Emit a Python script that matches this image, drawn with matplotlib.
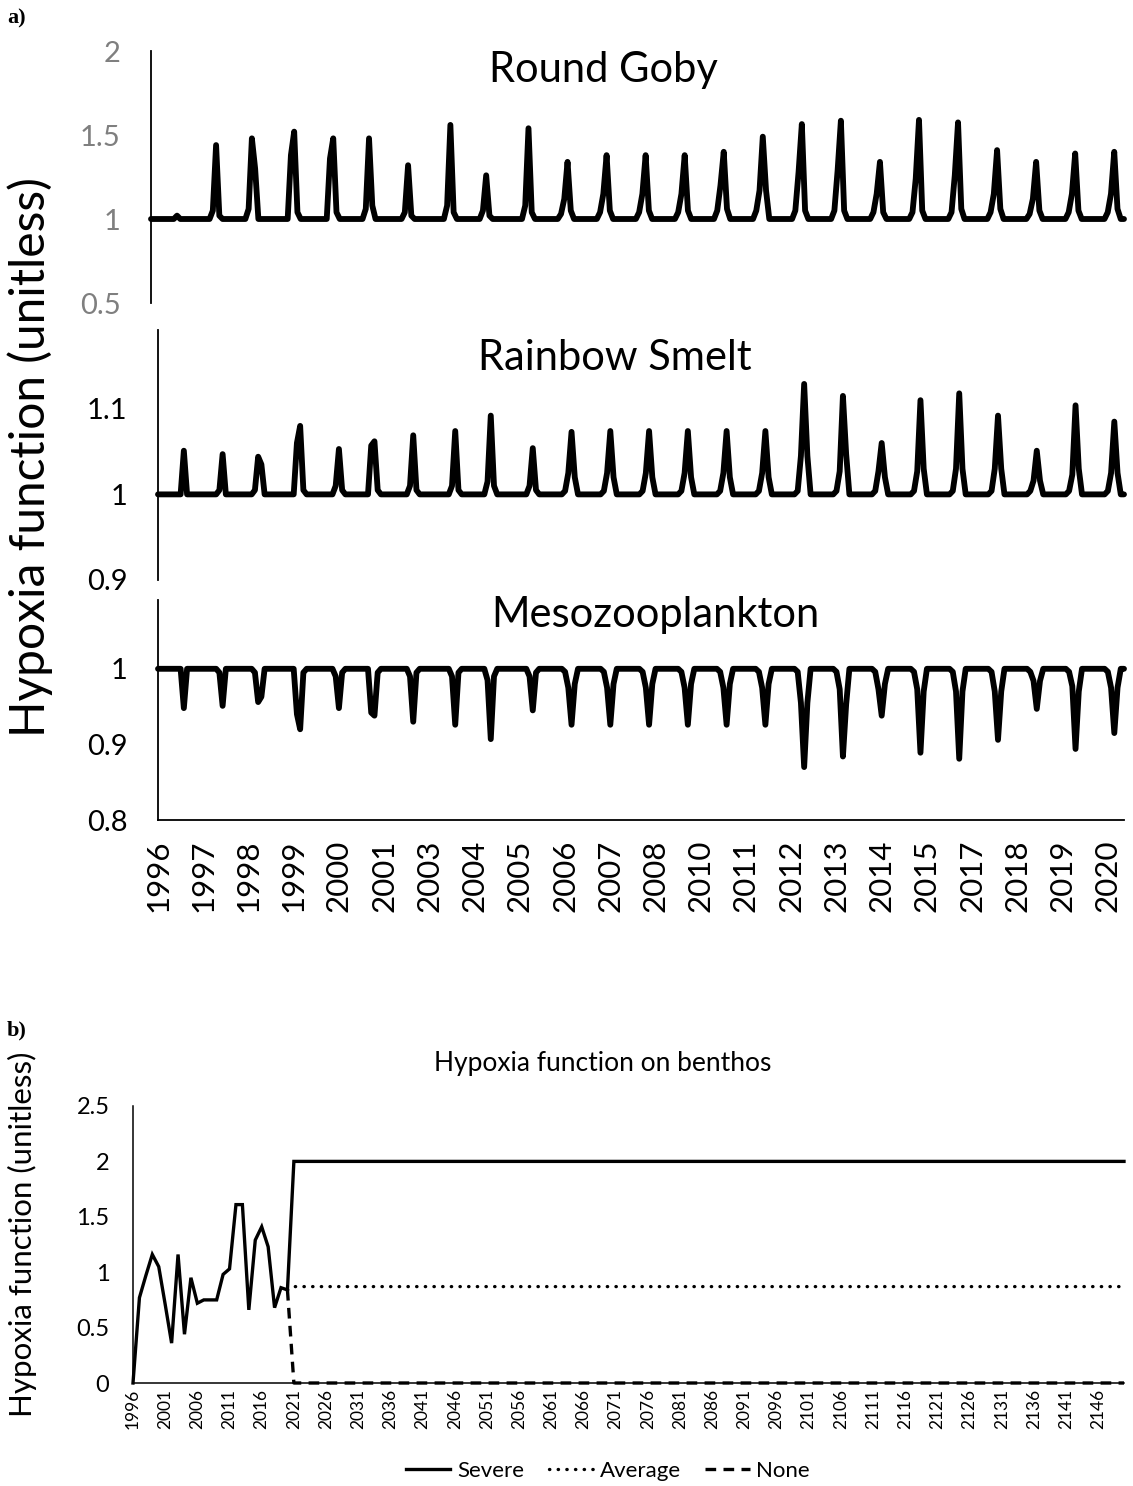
import numpy as np
import matplotlib
matplotlib.use("Agg")
import matplotlib.pyplot as plt

plt.rcParams['font.family'] = ['Lato', 'DejaVu Sans']

# ---------------- Panel a: monthly hypoxia multipliers, Jan 1996 - Dec 2020 ----------------
n_months = 300
# month index (0 = Jan 1996) of the annual hypoxia peak
peak_month = [8, 20, 31, 44, 56, 67, 79, 92, 103, 116, 128, 140, 152, 164,
              176, 188, 200, 212, 224, 236, 248, 260, 272, 284, 296]

# Round goby: two months before, one month before, peak month, one month after
goby_pre2 = [1.0, 1.0, 1.0, 1.0, 1.0, 1.0, 1.0, 1.0, 1.0, 1.0, 1.03, 1.04, 1.04,
             1.04, 1.05, 1.05, 1.05, 1.05, 1.04, 1.04, 1.04, 1.04, 1.03, 1.04, 1.04]
goby_pre = [1.0, 1.05, 1.06, 1.38, 1.36, 1.06, 1.04, 1.08, 1.05, 1.08, 1.12, 1.15, 1.15,
            1.15, 1.20, 1.17, 1.28, 1.29, 1.15, 1.24, 1.26, 1.15, 1.12, 1.15, 1.15]
goby_peak = [1.02, 1.44, 1.48, 1.52, 1.48, 1.48, 1.32, 1.56, 1.26, 1.54, 1.34, 1.38, 1.38,
             1.38, 1.40, 1.49, 1.565, 1.585, 1.34, 1.59, 1.575, 1.41, 1.34, 1.39, 1.40]
goby_post = [1.0, 1.02, 1.30, 1.04, 1.04, 1.08, 1.02, 1.04, 1.02, 1.04, 1.05, 1.05, 1.05,
             1.05, 1.06, 1.17, 1.05, 1.05, 1.04, 1.05, 1.06, 1.06, 1.05, 1.05, 1.06]

# Rainbow smelt
smelt_pre2 = [1.0, 1.0, 1.0, 1.0, 1.0, 1.0, 1.0, 1.0, 1.0, 1.0, 1.004, 1.004, 1.004,
              1.004, 1.004, 1.004, 1.004, 1.004, 1.004, 1.004, 1.004, 1.004, 1.004, 1.004, 1.004]
smelt_pre = [1.0, 1.005, 1.005, 1.06, 1.01, 1.057, 1.01, 1.01, 1.015, 1.01, 1.025, 1.025,
             1.025, 1.025, 1.025, 1.025, 1.045, 1.027, 1.027, 1.027, 1.03, 1.03, 1.016,
             1.023, 1.025]
smelt_peak = [1.051, 1.047, 1.044, 1.080, 1.053, 1.062, 1.069, 1.074, 1.092, 1.054, 1.073,
              1.074, 1.074, 1.074, 1.074, 1.074, 1.129, 1.115, 1.060, 1.110, 1.118, 1.092,
              1.051, 1.104, 1.085]
smelt_post = [1.0, 1.0, 1.035, 1.005, 1.005, 1.005, 1.005, 1.005, 1.01, 1.005, 1.02, 1.02,
              1.02, 1.02, 1.02, 1.02, 1.045, 1.047, 1.02, 1.03, 1.03, 1.03, 1.016, 1.03, 1.025]

# Mesozooplankton
meso_pre2 = [1.0, 1.0, 1.0, 1.0, 1.0, 1.0, 1.0, 1.0, 1.0, 1.0, 0.996, 0.996, 0.996,
             0.996, 0.996, 0.996, 0.996, 0.996, 0.996, 0.996, 0.996, 0.996, 0.996, 0.996, 0.996]
meso_pre = [1.0, 0.995, 0.995, 0.94, 0.99, 0.942, 0.99, 0.99, 0.985, 0.99, 0.975, 0.975,
            0.975, 0.975, 0.975, 0.975, 0.955, 0.973, 0.973, 0.973, 0.97, 0.97, 0.984,
            0.977, 0.975]
meso_trough = [0.948, 0.951, 0.956, 0.920, 0.948, 0.938, 0.930, 0.926, 0.907, 0.945, 0.926,
               0.926, 0.926, 0.926, 0.926, 0.926, 0.870, 0.884, 0.938, 0.889, 0.881, 0.906,
               0.947, 0.894, 0.915]
meso_post = [1.0, 1.0, 0.963, 0.995, 0.995, 0.995, 0.995, 0.995, 0.99, 0.995, 0.98, 0.98,
             0.98, 0.98, 0.98, 0.98, 0.955, 0.953, 0.98, 0.97, 0.97, 0.97, 0.984, 0.97, 0.975]

month_tick_pos = list(range(0, n_months, 14))
month_tick_labels = ['1996', '1997', '1998', '1999', '2000', '2001', '2003', '2004', '2005',
                     '2006', '2007', '2008', '2010', '2011', '2012', '2013', '2014', '2015',
                     '2017', '2018', '2019', '2020']

# ---------------- Panel b: annual benthos hypoxia function ----------------
hist_years = list(range(1996, 2021))
hist_benthos = [0.0, 0.77, 0.97, 1.16, 1.05, 0.71, 0.36, 1.16, 0.44, 0.95, 0.72, 0.75, 0.75,
                0.75, 0.98, 1.03, 1.61, 1.61, 0.66, 1.29, 1.41, 1.23, 0.68, 0.86, 0.84]
proj_years = list(range(2021, 2151))
severe_level = 2.0
average_level = 0.87
none_level = 0.0
year_ticks = list(range(1996, 2151, 5))


def monthly_series(pre2, pre, peak, post):
    s = np.ones(n_months)
    for m, a2, a, p, b in zip(peak_month, pre2, pre, peak, post):
        if m - 2 >= 0:
            s[m - 2] = a2
        if m - 1 >= 0:
            s[m - 1] = a
        s[m] = p
        if m + 1 < n_months:
            s[m + 1] = b
    return s


W, H = 1133, 1486
fig = plt.figure(figsize=(W / 100, H / 100), dpi=100)


def box(left, top, right, bottom):
    return [left / W, 1 - bottom / H, (right - left) / W, (bottom - top) / H]


months = np.arange(n_months)
panels = [
    (box(151, 51, 1124, 303), monthly_series(goby_pre2, goby_pre, goby_peak, goby_post),
     (0.5, 2.0), [0.5, 1.0, 1.5, 2.0], ['0.5', '1', '1.5', '2'], '#7f7f7f', False),
    (box(158, 330, 1124, 580), monthly_series(smelt_pre2, smelt_pre, smelt_peak, smelt_post),
     (0.9, 1.192), [0.9, 1.0, 1.1], ['0.9', '1', '1.1'], 'black', False),
    (box(158, 600, 1124, 820), monthly_series(meso_pre2, meso_pre, meso_trough, meso_post),
     (0.8, 1.091), [0.8, 0.9, 1.0], ['0.8', '0.9', '1'], 'black', True),
]

for rect, series, ylim, yt, ytl, tcolor, show_x in panels:
    ax = fig.add_axes(rect)
    ax.patch.set_alpha(0)
    ax.plot(months, series, color='black', lw=4.2, solid_joinstyle='round',
            solid_capstyle='round', clip_on=False)
    ax.set_xlim(0, n_months - 1)
    ax.set_ylim(*ylim)
    ax.set_yticks(yt)
    ax.set_yticklabels(ytl)
    ax.tick_params(axis='y', length=0, pad=22, labelsize=21, labelcolor=tcolor)
    for side in ['top', 'right']:
        ax.spines[side].set_visible(False)
    ax.spines['left'].set_linewidth(1.3)
    if show_x:
        ax.spines['bottom'].set_linewidth(1.3)
        ax.set_xticks(month_tick_pos)
        ax.set_xticklabels(month_tick_labels, rotation=90)
        ax.tick_params(axis='x', length=0, pad=14, labelsize=22.5)
    else:
        ax.spines['bottom'].set_visible(False)
        ax.set_xticks([])

fig.text(603 / W, 1 - 70 / H, 'Round Goby', ha='center', va='center', fontsize=30)
fig.text(615 / W, 1 - 358 / H, 'Rainbow Smelt', ha='center', va='center', fontsize=30)
fig.text(655 / W, 1 - 615 / H, 'Mesozooplankton', ha='center', va='center', fontsize=30)
fig.text(30 / W, 1 - 457 / H, 'Hypoxia function (unitless)', rotation=90,
         ha='center', va='center', fontsize=34.5)
fig.text(7 / W, 1 - 18 / H, 'a)', ha='left', va='center', fontsize=16,
         fontweight='bold', family=['Liberation Serif', 'DejaVu Serif'])

# ---------------- Panel b ----------------
axb = fig.add_axes(box(133, 1106, 1124, 1383))
severe = hist_benthos + [severe_level] * len(proj_years)
years_all = hist_years + proj_years
avg_years = [hist_years[-1]] + proj_years
average = [hist_benthos[-1]] + [average_level] * len(proj_years)
none = [hist_benthos[-1]] + [none_level] * len(proj_years)

axb.plot(avg_years, none, color='black', lw=2.4, linestyle=(0, (3.2, 2.2)),
         dash_capstyle='butt', clip_on=False, label='None', zorder=3)
axb.plot(avg_years, average, color='black', lw=2.4, linestyle=(0, (0.1, 2.5)),
         dash_capstyle='round', clip_on=False, label='Average', zorder=3)
axb.plot(years_all, severe, color='black', lw=2.4, solid_joinstyle='miter',
         clip_on=False, label='Severe', zorder=4)
axb.set_xlim(1996, 2150)
axb.set_ylim(0, 2.5)
axb.set_yticks([0, 0.5, 1.0, 1.5, 2.0, 2.5])
axb.set_yticklabels(['0', '0.5', '1', '1.5', '2', '2.5'])
axb.set_xticks(year_ticks)
axb.set_xticklabels([str(y) for y in year_ticks], rotation=90)
axb.tick_params(axis='y', length=0, pad=17, labelsize=17)
axb.tick_params(axis='x', length=0, pad=4, labelsize=12.5)
for side in ['top', 'right']:
    axb.spines[side].set_visible(False)
axb.spines['left'].set_linewidth(1.1)
axb.spines['bottom'].set_linewidth(1.1)

fig.text(603 / W, 1 - 1063 / H, 'Hypoxia function on benthos', ha='center', va='center',
         fontsize=19)
fig.text(22 / W, 1 - 1234 / H, 'Hypoxia function (unitless)', rotation=90,
         ha='center', va='center', fontsize=22.5)
fig.text(7 / W, 1 - 1030 / H, 'b)', ha='left', va='center', fontsize=16,
         fontweight='bold', family=['Liberation Serif', 'DejaVu Serif'])

h, l = axb.get_legend_handles_labels()
order = [2, 1, 0]
fig.legend([h[i] for i in order], [l[i] for i in order], loc='center',
           bbox_to_anchor=(608 / W, 1 - 1471 / H), ncol=3, frameon=False,
           fontsize=16, handlelength=2.0, columnspacing=1.1, handletextpad=0.3)

fig.savefig('out.png', dpi=100)
